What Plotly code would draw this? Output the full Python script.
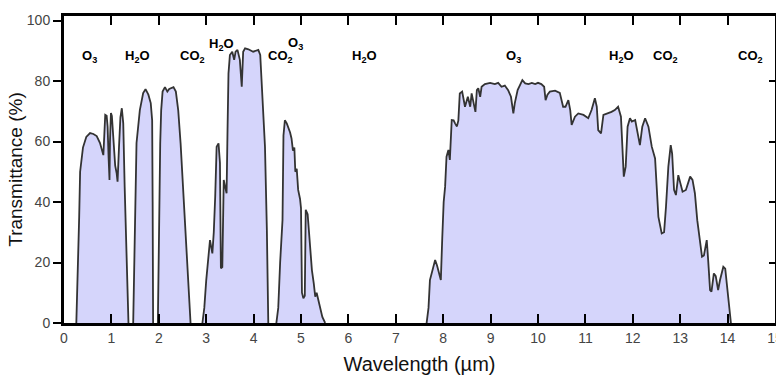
import plotly.graph_objects as go

# ---- data: (wavelength µm, transmittance %) per atmospheric window ----
window_0_1 = [(0.26, 0), (0.28, 10), (0.30, 25), (0.32, 35), (0.34, 50), (0.40, 58), (0.47, 61.5),
              (0.55, 62.8), (0.62, 62.5), (0.69, 61.8), (0.76, 59.5), (0.80, 57.5), (0.83, 55.5),
              (0.85, 62), (0.87, 68.8), (0.90, 68.5), (0.92, 64.9), (0.94, 55), (0.96, 47.3),
              (0.97, 60), (0.99, 69.4), (1.01, 68.5), (1.04, 62), (1.08, 52), (1.11, 49.6),
              (1.13, 46.7), (1.16, 58), (1.19, 68), (1.22, 71), (1.25, 66), (1.28, 45),
              (1.31, 25), (1.33, 10), (1.36, 0)]

window_1_2 = [(1.46, 0), (1.48, 20), (1.50, 43), (1.53, 59.5), (1.60, 70.4), (1.67, 76),
              (1.72, 77.3), (1.78, 75.5), (1.83, 72.7), (1.86, 67), (1.87, 40), (1.88, 0)]

window_2_3 = [(1.98, 0), (2.00, 31.8), (2.03, 59.4), (2.05, 70.3), (2.08, 76.5), (2.13, 78),
              (2.18, 76.5), (2.22, 77.4), (2.31, 78), (2.36, 76.5), (2.41, 70.3), (2.46, 59.4),
              (2.52, 42.9), (2.59, 23.1), (2.67, 0)]

window_3_4 = [(2.92, 0), (2.96, 5), (3.00, 14), (3.04, 21.9), (3.08, 27.4), (3.13, 23),
              (3.16, 30), (3.19, 41.8), (3.22, 58.3), (3.26, 59.4), (3.29, 53), (3.30, 35),
              (3.31, 18.1), (3.34, 18.5), (3.37, 47.3), (3.40, 45), (3.43, 42.9), (3.45, 63.8),
              (3.47, 82.5), (3.50, 88.6), (3.55, 89.7), (3.59, 87), (3.62, 89.7), (3.66, 90.3),
              (3.71, 87), (3.75, 78.1), (3.78, 89.7), (3.82, 90.8), (3.89, 90.5), (3.99, 89.7),
              (4.10, 90.3), (4.14, 88.6), (4.17, 80.3), (4.21, 70), (4.24, 58.3), (4.28, 30.7),
              (4.31, 0)]

window_4_5 = [(4.48, 0), (4.52, 5), (4.56, 20), (4.59, 32), (4.61, 34), (4.63, 62), (4.66, 67),
              (4.70, 66), (4.73, 64.9), (4.77, 63), (4.80, 61), (4.83, 57), (4.86, 58),
              (4.88, 50), (4.91, 51), (4.94, 44), (4.98, 41), (5.00, 38), (5.02, 10), (5.05, 8.2),
              (5.08, 9), (5.10, 37.4), (5.14, 36), (5.19, 25.2), (5.23, 17.5), (5.27, 13),
              (5.30, 8.7), (5.33, 10), (5.37, 7.4), (5.41, 4), (5.45, 2), (5.51, 0)]

window_8_14 = [(7.65, 0), (7.69, 5), (7.72, 14.2), (7.76, 16.4), (7.80, 19), (7.83, 20.8),
               (7.87, 19), (7.92, 15.3), (7.95, 14.2), (7.98, 28), (8.01, 40), (8.04, 45),
               (8.07, 55), (8.11, 57.2), (8.14, 53.9), (8.18, 67.1), (8.22, 67), (8.25, 66),
               (8.29, 65), (8.32, 67), (8.35, 75.9), (8.40, 76.5), (8.46, 71.5), (8.52, 74.8),
               (8.57, 71.5), (8.60, 75.9), (8.64, 72.6), (8.68, 69.8), (8.71, 77), (8.74, 77.6),
               (8.78, 74.8), (8.81, 78.1), (8.88, 79), (8.99, 79.4), (9.09, 79), (9.16, 79.4),
               (9.23, 78.1), (9.30, 78.5), (9.37, 77), (9.43, 74.8), (9.48, 69.3), (9.51, 72.6),
               (9.57, 77), (9.62, 78.7), (9.67, 80.3), (9.73, 79.2), (9.80, 79), (9.87, 79.4),
               (9.94, 79), (10.00, 79.4), (10.07, 79), (10.13, 78.1), (10.16, 73.7), (10.20, 75.5),
               (10.25, 76.5), (10.36, 76.8), (10.46, 76.1), (10.53, 71.5), (10.58, 71.5),
               (10.64, 73.7), (10.68, 70.4), (10.71, 65.5), (10.78, 68.2), (10.85, 69.3),
               (10.96, 68.8), (11.06, 67.7), (11.13, 70.4), (11.20, 74.3), (11.24, 71.5),
               (11.27, 63.8), (11.33, 62.7), (11.38, 68.8), (11.48, 69.3), (11.55, 69.8),
               (11.62, 70.4), (11.69, 71.5), (11.75, 68.2), (11.78, 59.4), (11.81, 48.4),
               (11.85, 51.7), (11.89, 64.9), (11.94, 67.7), (11.98, 66.6), (12.05, 67.1),
               (12.12, 60.5), (12.15, 58.8), (12.20, 64.9), (12.26, 67.7), (12.33, 64.9),
               (12.40, 58.3), (12.47, 54.4), (12.50, 46.2), (12.54, 35.1), (12.61, 29.6),
               (12.66, 30), (12.70, 38.4), (12.75, 51.7), (12.80, 58.8), (12.83, 56), (12.87, 44),
               (12.91, 42.3), (12.96, 48.9), (12.99, 47.3), (13.05, 43.4), (13.12, 44),
               (13.21, 48.4), (13.26, 47.3), (13.31, 42.9), (13.36, 34), (13.42, 27.4),
               (13.46, 21.9), (13.50, 22.3), (13.56, 27.4), (13.59, 20.8), (13.63, 10.9),
               (13.66, 10.4), (13.71, 16.4), (13.75, 15.5), (13.80, 10.9), (13.84, 14.2),
               (13.91, 18.6), (13.95, 18), (13.99, 12), (14.04, 3.2), (14.07, 0)]

windows = [window_0_1, window_1_2, window_2_3, window_3_4, window_4_5, window_8_14]

# absorber labels (HTML for subscripts) and where they are written
gas_labels = ["O<sub>3</sub>", "H<sub>2</sub>O", "CO<sub>2</sub>", "H<sub>2</sub>O", "CO<sub>2</sub>",
              "O<sub>3</sub>", "H<sub>2</sub>O", "O<sub>3</sub>", "H<sub>2</sub>O", "CO<sub>2</sub>",
              "CO<sub>2</sub>"]
gas_label_x = [0.53, 1.56, 2.72, 3.33, 4.56, 4.89, 6.35, 9.49, 11.77, 12.70, 14.49]
gas_label_y = [88.0, 88.0, 88.0, 92.0, 88.0, 92.5, 88.0, 88.0, 88.0, 88.0, 88.0]

x_ticks = list(range(0, 16))
y_ticks = [0, 20, 40, 60, 80, 100]

FONT = "Liberation Sans, Arial, sans-serif"

fig = go.Figure()
for w in windows:
    xs = [p[0] for p in w]
    ys = [p[1] for p in w]
    fig.add_trace(go.Scatter(x=xs, y=ys, mode="lines",
                             line=dict(color="#333333", width=1.8),
                             fill="tozeroy", fillcolor="#d5d5fb",
                             hoverinfo="skip", showlegend=False))
# invisible trace so the mirrored right axis is drawn
fig.add_trace(go.Scatter(x=[0], y=[0], yaxis="y2", mode="markers",
                         marker=dict(opacity=0), hoverinfo="skip", showlegend=False))

for t, x, y in zip(gas_labels, gas_label_x, gas_label_y):
    fig.add_annotation(x=x, y=y, text="<b>" + t + "</b>", showarrow=False,
                       font=dict(family=FONT, size=13, color="black"),
                       xanchor="center", yanchor="middle")

fig.update_layout(
    width=776, height=376,
    margin=dict(l=64, r=1, t=16, b=53),
    paper_bgcolor="white", plot_bgcolor="white",
    xaxis=dict(range=[0, 15], tickvals=x_ticks, ticks="inside", ticklen=9, tickwidth=2,
               tickcolor="black", showline=True, linewidth=3, linecolor="black",
               mirror="ticks", showgrid=False, zeroline=False, automargin=False,
               tickfont=dict(family=FONT, size=14, color="#444"),
               ticklabeloverflow="allow",
               title=dict(text="Wavelength (µm)", font=dict(family=FONT, size=20, color="#111"),
                          standoff=13)),
    yaxis=dict(range=[0, 101.5], tickvals=y_ticks, ticks="outside", ticklen=8, tickwidth=2,
               tickcolor="black", showline=True, linewidth=3, linecolor="black",
               showgrid=False, zeroline=False, automargin=False,
               tickfont=dict(family=FONT, size=14, color="#444"),
               title=dict(text="Transmittance (%)", font=dict(family=FONT, size=19, color="#111"),
                          standoff=0)),
    yaxis2=dict(range=[0, 101.5], overlaying="y", side="right", tickvals=[20, 40, 60, 80],
                ticks="inside", ticklen=6, tickwidth=1.5, tickcolor="black",
                showline=True, linewidth=1.5, linecolor="black", showticklabels=False,
                showgrid=False, zeroline=False, automargin=False),
)

fig.write_html("out.html", config={"displayModeBar": False},
               post_script="document.body.style.margin='0';")
